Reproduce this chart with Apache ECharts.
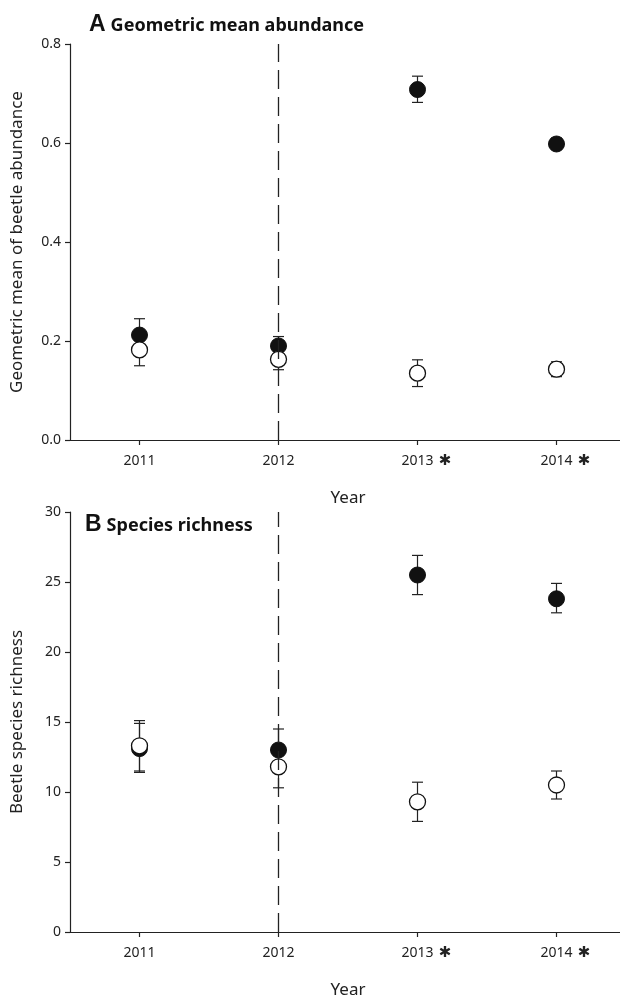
<!DOCTYPE html>
<html>
<head>
<meta charset="utf-8">
<script src="https://cdn.jsdelivr.net/npm/echarts@6/dist/echarts.min.js"></script>
<style>
  html, body { margin: 0; padding: 0; background: #fff; overflow: hidden; }
  #chart { width: 640px; height: 1004px; }
</style>
</head>
<body>
<div id="chart"></div>
<script>
// Survey years; starred years differ significantly between treatments
const years = ['2011', '2012', '2013', '2014'];
const starred = [false, false, true, true];

// Panel A: geometric mean abundance
const abundFilled = [0.212, 0.190, 0.708, 0.598];
const abundFilledLo = [0.180, 0.171, 0.682, 0.588];
const abundFilledHi = [0.245, 0.209, 0.735, 0.610];
const abundOpen = [0.182, 0.163, 0.135, 0.143];
const abundOpenLo = [0.150, 0.142, 0.108, 0.128];
const abundOpenHi = [0.214, 0.184, 0.162, 0.158];
const abundTicks = [0, 0.2, 0.4, 0.6, 0.8];

// Panel B: species richness
const richFilled = [13.1, 13.0, 25.5, 23.8];
const richFilledLo = [11.4, 11.5, 24.1, 22.8];
const richFilledHi = [14.9, 14.5, 26.9, 24.9];
const richOpen = [13.3, 11.8, 9.3, 10.5];
const richOpenLo = [11.5, 10.3, 7.9, 9.5];
const richOpenHi = [15.1, 13.3, 10.7, 11.5];
const richTicks = [0, 5, 10, 15, 20, 25, 30];

const FONT = '"Noto Sans", "Open Sans", sans-serif';
const INK = '#222';

function errRows(lo, hi) {
  return years.map((y, i) => [i, lo[i], hi[i]]);
}

function errorBars(gridIdx, rows) {
  return {
    type: 'custom',
    xAxisIndex: gridIdx,
    yAxisIndex: gridIdx,
    z: 1,
    silent: true,
    data: rows,
    encode: { x: 0, y: [1, 2] },
    renderItem: function (params, api) {
      const i = api.value(0);
      const lo = api.coord([i, api.value(1)]);
      const hi = api.coord([i, api.value(2)]);
      const w = 5.5;
      const st = { stroke: INK, lineWidth: 1.2 };
      return {
        type: 'group',
        children: [
          { type: 'line', shape: { x1: lo[0], y1: lo[1], x2: hi[0], y2: hi[1] }, style: st },
          { type: 'line', shape: { x1: hi[0] - w, y1: hi[1], x2: hi[0] + w, y2: hi[1] }, style: st },
          { type: 'line', shape: { x1: lo[0] - w, y1: lo[1], x2: lo[0] + w, y2: lo[1] }, style: st }
        ]
      };
    }
  };
}

function points(gridIdx, vals, filled, withLine) {
  const s = {
    type: 'scatter',
    xAxisIndex: gridIdx,
    yAxisIndex: gridIdx,
    z: filled ? 3 : 4,
    symbol: 'circle',
    symbolSize: 16,
    data: vals,
    itemStyle: filled
      ? { color: '#111', borderColor: '#111', borderWidth: 1, opacity: 1 }
      : { color: '#fff', borderColor: '#111', borderWidth: 1.3, opacity: 1 }
  };
  if (withLine) {
    s.markLine = {
      silent: true,
      symbol: 'none',
      label: { show: false },
      lineStyle: { color: INK, width: 1.3, type: [19, 8] },
      data: [{ xAxis: '2012' }]
    };
  }
  return s;
}

function xAxisFor(gridIdx) {
  return {
    type: 'category',
    gridIndex: gridIdx,
    data: years,
    boundaryGap: true,
    name: 'Year',
    nameLocation: 'middle',
    nameGap: 50,
    nameTextStyle: { fontFamily: FONT, fontSize: 17, color: INK },
    axisLine: { lineStyle: { color: INK, width: 1.2 } },
    axisTick: { show: true, alignWithLabel: true, length: 5, lineStyle: { color: INK, width: 1.2 } },
    axisLabel: {
      interval: 0,
      margin: 14,
      fontFamily: FONT,
      fontSize: 14,
      color: INK,
      formatter: function (v, i) {
        return starred[i] ? '{pad|}{y|' + v + '}{s| \u2731}' : '{y|' + v + '}';
      },
      rich: {
        pad: { width: 18 },
        y: { fontFamily: FONT, fontSize: 14, color: INK },
        s: { fontFamily: '"DejaVu Sans", sans-serif', fontSize: 15, fontWeight: 'bold', color: INK, width: 18 }
      }
    },
    splitLine: { show: false }
  };
}

function yAxisFor(gridIdx, ticks, name, fmt, gap) {
  return {
    type: 'value',
    gridIndex: gridIdx,
    min: ticks[0],
    max: ticks[ticks.length - 1],
    interval: ticks[1] - ticks[0],
    name: name,
    nameLocation: 'middle',
    nameGap: gap,
    nameTextStyle: { fontFamily: FONT, fontSize: 17, color: INK },
    axisLine: { show: true, lineStyle: { color: INK, width: 1.2 } },
    axisTick: { show: true, length: 5, lineStyle: { color: INK, width: 1.2 } },
    axisLabel: { margin: 9, fontFamily: FONT, fontSize: 14, color: INK, formatter: fmt },
    splitLine: { show: false }
  };
}

const chart = echarts.init(document.getElementById('chart'), null, { renderer: 'canvas' });

const titleRich = {
  l: { fontFamily: '"Liberation Sans", Arial, sans-serif', fontSize: 23, fontWeight: 'bold', color: '#111' },
  t: { fontFamily: FONT, fontSize: 18, fontWeight: 'bold', color: '#111', padding: [3, 0, 0, 0] }
};

chart.setOption({
  backgroundColor: '#fff',
  animation: false,
  title: [
    { left: 84, top: 8, text: '{l|A} {t|Geometric mean abundance}', textStyle: { rich: titleRich } },
    { left: 80, top: 508, text: '{l|B} {t|Species richness}', textStyle: { rich: titleRich } }
  ],
  grid: [
    { left: 70, width: 556, top: 44, height: 396 },
    { left: 70, width: 556, top: 512, height: 420 }
  ],
  xAxis: [xAxisFor(0), xAxisFor(1)],
  yAxis: [
    yAxisFor(0, abundTicks, 'Geometric mean of beetle abundance', v => v.toFixed(1), 44),
    yAxisFor(1, richTicks, 'Beetle species richness', v => String(v), 44)
  ],
  series: [
    errorBars(0, errRows(abundFilledLo, abundFilledHi)),
    errorBars(0, errRows(abundOpenLo, abundOpenHi)),
    points(0, abundFilled, true, true),
    points(0, abundOpen, false, false),
    errorBars(1, errRows(richFilledLo, richFilledHi)),
    errorBars(1, errRows(richOpenLo, richOpenHi)),
    points(1, richFilled, true, true),
    points(1, richOpen, false, false)
  ]
});
</script>
</body>
</html>
